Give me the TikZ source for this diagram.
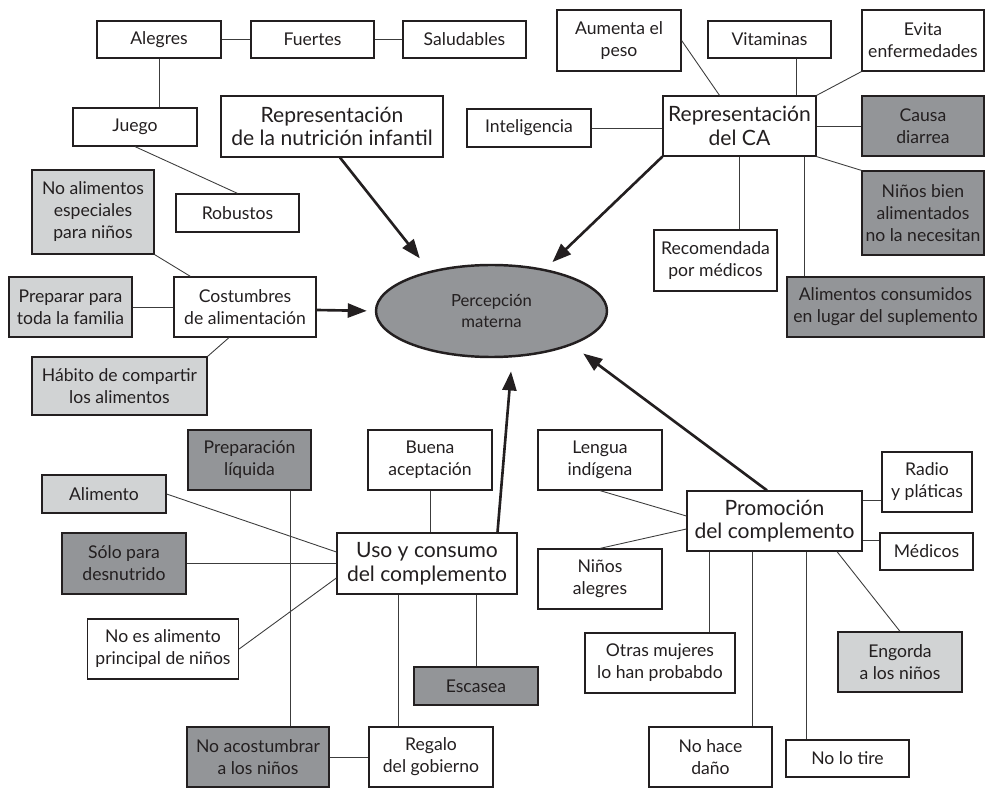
\documentclass[tikz,border=0pt]{standalone}
\usepackage{fontspec}
\setmainfont{Lato}
\usetikzlibrary{shapes.geometric,arrows.meta}
\definecolor{box-light}{HTML}{D1D3D4}
\definecolor{box-dark}{HTML}{939598}
\definecolor{ink}{HTML}{231F20}
\definecolor{line-grey}{HTML}{3C3C3C}
\newlength{\basisperceptionmap}
\setlength{\basisperceptionmap}{0.2cm}

\tikzset{
    concept/.style={draw=ink, line width=0.7pt, fill=white, text=ink, inner sep=0pt, align=center, font=\fontsize{10}{12.5}\selectfont},
    concept-light/.style={concept, fill=box-light},
    concept-dark/.style={concept, fill=box-dark},
    theme/.style={concept, font=\fontsize{12}{13.5}\selectfont},
    link/.style={line-grey, line width=0.5pt},
    influence/.style={draw=ink, line width=1.5pt, -{Triangle[length=0.38cm,width=0.28cm]}, shorten >=1.2\basisperceptionmap},
}

\begin{document}
\begin{tikzpicture}
    \useasboundingbox (0,0) rectangle (98.5\basisperceptionmap,-78.8\basisperceptionmap);

    % representacion de la nutricion infantil
    \draw (15.9\basisperceptionmap,-3.95\basisperceptionmap)
		node[concept, minimum width=12.4\basisperceptionmap, minimum height=3.7\basisperceptionmap] (alegres) {Alegres};
    \draw (31.25\basisperceptionmap,-3.95\basisperceptionmap)
		node[concept, minimum width=12.3\basisperceptionmap, minimum height=3.7\basisperceptionmap] (fuertes) {Fuertes};
    \draw (46.45\basisperceptionmap,-3.95\basisperceptionmap)
		node[concept, minimum width=12.3\basisperceptionmap, minimum height=3.7\basisperceptionmap] (saludables) {Saludables};
    \draw (13.5\basisperceptionmap,-12.7\basisperceptionmap)
		node[concept, minimum width=12.4\basisperceptionmap, minimum height=3.8\basisperceptionmap] (juego) {Juego};
    \draw (23.75\basisperceptionmap,-21.3\basisperceptionmap)
		node[concept, minimum width=12.3\basisperceptionmap, minimum height=3.8\basisperceptionmap] (robustos) {Robustos};
    \draw (33.2\basisperceptionmap,-12.65\basisperceptionmap)
		node[theme, minimum width=22.2\basisperceptionmap, minimum height=6.1\basisperceptionmap] (rep-nutricion) {Representación\\de la nutrición infantil};

    % costumbres
    \draw (9.3\basisperceptionmap,-21.2\basisperceptionmap)
		node[concept-light, minimum width=12.2\basisperceptionmap, minimum height=8.4\basisperceptionmap] (no-especiales) {No alimentos\\especiales\\para niños};
    \draw (7.05\basisperceptionmap,-30.7\basisperceptionmap)
		node[concept-light, minimum width=12.3\basisperceptionmap, minimum height=6.0\basisperceptionmap] (preparar) {Preparar para\\toda la familia};
    \draw (24.5\basisperceptionmap,-30.7\basisperceptionmap)
		node[concept, minimum width=14.2\basisperceptionmap, minimum height=6.0\basisperceptionmap] (costumbres) {Costumbres\\de alimentación};
    \draw (11.95\basisperceptionmap,-38.6\basisperceptionmap)
		node[concept-light, minimum width=17.5\basisperceptionmap, minimum height=5.8\basisperceptionmap] (habito) {Hábito de compartir\\los alimentos};

    % percepcion materna
    \draw (49.15\basisperceptionmap,-31.1\basisperceptionmap)
		node[ellipse, draw=ink, line width=1.4pt, fill=box-dark, text=ink, inner sep=0pt, align=center, font=\fontsize{9.5}{12}\selectfont, minimum width=23.1\basisperceptionmap, minimum height=9.2\basisperceptionmap] (percepcion) {Percepción\\materna};

    % representacion del CA
    \draw (61.9\basisperceptionmap,-4.05\basisperceptionmap)
		node[concept, minimum width=12.4\basisperceptionmap, minimum height=6.1\basisperceptionmap] (aumenta) {Aumenta el\\peso};
    \draw (76.95\basisperceptionmap,-3.95\basisperceptionmap)
		node[concept, minimum width=12.3\basisperceptionmap, minimum height=3.7\basisperceptionmap] (vitaminas) {Vitaminas};
    \draw (92.3\basisperceptionmap,-4.05\basisperceptionmap)
		node[concept, minimum width=12.2\basisperceptionmap, minimum height=6.1\basisperceptionmap] (evita) {Evita\\enfermedades};
    \draw (52.9\basisperceptionmap,-12.8\basisperceptionmap)
		node[concept, minimum width=12.4\basisperceptionmap, minimum height=3.8\basisperceptionmap] (inteligencia) {Inteligencia};
    \draw (73.95\basisperceptionmap,-12.6\basisperceptionmap)
		node[theme, minimum width=15.3\basisperceptionmap, minimum height=6.0\basisperceptionmap] (rep-ca) {Representación\\del CA};
    \draw (92.3\basisperceptionmap,-12.6\basisperceptionmap)
		node[concept-dark, minimum width=12.2\basisperceptionmap, minimum height=6.0\basisperceptionmap] (causa) {Causa\\diarrea};
    \draw (92.3\basisperceptionmap,-21.3\basisperceptionmap)
		node[concept-dark, minimum width=12.2\basisperceptionmap, minimum height=8.4\basisperceptionmap] (ninos-bien) {Niños bien\\alimentados\\no la necesitan};
    \draw (71.55\basisperceptionmap,-26.05\basisperceptionmap)
		node[concept, minimum width=12.3\basisperceptionmap, minimum height=6.1\basisperceptionmap] (recomendada) {Recomendada\\por médicos};
    \draw (88.55\basisperceptionmap,-30.7\basisperceptionmap)
		node[concept-dark, minimum width=19.7\basisperceptionmap, minimum height=6.0\basisperceptionmap] (consumidos) {Alimentos consumidos\\en lugar del suplemento};

    % uso y consumo
    \draw (24.95\basisperceptionmap,-46.0\basisperceptionmap)
		node[concept-dark, minimum width=12.3\basisperceptionmap, minimum height=6.0\basisperceptionmap] (prep-liquida) {Preparación\\líquida};
    \draw (43.0\basisperceptionmap,-46.0\basisperceptionmap)
		node[concept, minimum width=12.4\basisperceptionmap, minimum height=6.0\basisperceptionmap] (buena) {Buena\\aceptación};
    \draw (10.4\basisperceptionmap,-49.4\basisperceptionmap)
		node[concept-light, minimum width=12.4\basisperceptionmap, minimum height=3.8\basisperceptionmap] (alimento) {Alimento};
    \draw (12.4\basisperceptionmap,-56.35\basisperceptionmap)
		node[concept-dark, minimum width=12.4\basisperceptionmap, minimum height=6.1\basisperceptionmap] (solo) {Sólo para\\desnutrido};
    \draw (42.7\basisperceptionmap,-56.35\basisperceptionmap)
		node[theme, minimum width=18.0\basisperceptionmap, minimum height=6.1\basisperceptionmap] (uso) {Uso y consumo\\del complemento};
    \draw (16.3\basisperceptionmap,-64.9\basisperceptionmap)
		node[concept, minimum width=15.1\basisperceptionmap, minimum height=6.0\basisperceptionmap] (no-principal) {No es alimento\\principal de niños};
    \draw (47.6\basisperceptionmap,-68.6\basisperceptionmap)
		node[concept-dark, minimum width=12.4\basisperceptionmap, minimum height=3.8\basisperceptionmap] (escasea) {Escasea};
    \draw (25.8\basisperceptionmap,-75.7\basisperceptionmap)
		node[concept-dark, minimum width=14.2\basisperceptionmap, minimum height=6.0\basisperceptionmap] (no-acostumbrar) {No acostumbrar\\a los niños};
    \draw (43.1\basisperceptionmap,-75.7\basisperceptionmap)
		node[concept, minimum width=12.4\basisperceptionmap, minimum height=6.0\basisperceptionmap] (regalo) {Regalo\\del gobierno};

    % promocion del complemento
    \draw (60.0\basisperceptionmap,-46.0\basisperceptionmap)
		node[concept, minimum width=12.4\basisperceptionmap, minimum height=6.0\basisperceptionmap] (lengua) {Lengua\\indígena};
    \draw (77.45\basisperceptionmap,-52.1\basisperceptionmap)
		node[theme, minimum width=17.5\basisperceptionmap, minimum height=6.0\basisperceptionmap] (promocion) {Promoción\\del complemento};
    \draw (92.7\basisperceptionmap,-48.2\basisperceptionmap)
		node[concept, minimum width=9.0\basisperceptionmap, minimum height=6.0\basisperceptionmap] (radio) {Radio\\y pláticas};
    \draw (92.65\basisperceptionmap,-55.15\basisperceptionmap)
		node[concept, minimum width=9.3\basisperceptionmap, minimum height=3.7\basisperceptionmap] (medicos) {Médicos};
    \draw (60.0\basisperceptionmap,-57.9\basisperceptionmap)
		node[concept, minimum width=12.4\basisperceptionmap, minimum height=6.0\basisperceptionmap] (ninos-alegres) {Niños\\alegres};
    \draw (66.0\basisperceptionmap,-66.3\basisperceptionmap)
		node[concept, minimum width=15.0\basisperceptionmap, minimum height=6.0\basisperceptionmap] (otras) {Otras mujeres\\lo han probabdo};
    \draw (90.0\basisperceptionmap,-66.2\basisperceptionmap)
		node[concept-light, minimum width=12.4\basisperceptionmap, minimum height=6.0\basisperceptionmap] (engorda) {Engorda\\a los niños};
    \draw (71.05\basisperceptionmap,-75.7\basisperceptionmap)
		node[concept, minimum width=12.3\basisperceptionmap, minimum height=6.0\basisperceptionmap] (no-dano) {No hace\\daño};
    \draw (84.75\basisperceptionmap,-75.85\basisperceptionmap)
		node[concept, minimum width=12.3\basisperceptionmap, minimum height=3.7\basisperceptionmap] (no-tire) {No lo tire};

	% links
	\draw[link] (alegres.east) -- (fuertes.west);
	\draw[link] (fuertes.east) -- (saludables.west);
	\draw[link] (alegres.south) -- (alegres.south |- juego.north);
	\draw[link] (juego.south) -- (robustos.north);
	\draw[link] (no-especiales.south east) -- ([xshift=1.7\basisperceptionmap]costumbres.north west);
	\draw[link] (preparar.east) -- (costumbres.west);
	\draw[link] (habito.north east) -- ([xshift=-1.6\basisperceptionmap]costumbres.south);

	\draw[link] (aumenta.east) -- ([xshift=-2.0\basisperceptionmap]rep-ca.north);
	\draw[link] ([xshift=2.65\basisperceptionmap]vitaminas.south) coordinate (vitaminas-foot) -- (vitaminas-foot |- rep-ca.north);
	\draw[link] (evita.south west) -- (rep-ca.north east);
	\draw[link] (inteligencia.east) -- (inteligencia.east -| rep-ca.west);
	\draw[link] (rep-ca.east) -- (causa.west);
	\draw[link] (rep-ca.south east) -- (ninos-bien.north west);
	\draw[link] (rep-ca.south) -- (rep-ca.south |- recomendada.north);
	\draw[link] ([xshift=6.45\basisperceptionmap]rep-ca.south) coordinate (rep-ca-foot) -- (rep-ca-foot |- consumidos.north);

	\draw[link] (alimento.east) -- ([yshift=1.15\basisperceptionmap]uso.west);
	\draw[link] (solo.east) -- (uso.west);
	\draw[link] (no-principal.east) -- ([yshift=-1.45\basisperceptionmap]uso.west);
	\draw[link] ([xshift=4.05\basisperceptionmap]prep-liquida.south) coordinate (liquida-foot) -- (liquida-foot |- no-acostumbrar.north);
	\draw[link] (buena.south) -- (buena.south |- uso.north);
	\draw[link] ([xshift=-2.9\basisperceptionmap]uso.south) coordinate (uso-foot) -- (uso-foot |- regalo.north);
	\draw[link] (escasea.north) -- (escasea.north |- uso.south);
	\draw[link] (no-acostumbrar.east) -- (regalo.west);

	\draw[link] (lengua.south) -- ([yshift=0.5\basisperceptionmap]promocion.west);
	\draw[link] (ninos-alegres.north) -- ([yshift=-0.8\basisperceptionmap]promocion.west);
	\draw[link] ([yshift=2.1\basisperceptionmap]promocion.east) coordinate (radio-link) -- (radio-link -| radio.west);
	\draw[link] ([yshift=1.15\basisperceptionmap]medicos.west) coordinate (medicos-link) -- (medicos-link -| promocion.east);
	\draw[link] ([xshift=-6.55\basisperceptionmap]promocion.south) coordinate (otras-link) -- (otras-link |- otras.north);
	\draw[link] ([xshift=-2.25\basisperceptionmap]promocion.south) coordinate (dano-link) -- (dano-link |- no-dano.north);
	\draw[link] ([xshift=3.15\basisperceptionmap]promocion.south) coordinate (tire-link) -- (tire-link |- no-tire.north);
	\draw[link] ([xshift=6.25\basisperceptionmap]promocion.south) -- (engorda.north);

	% influences on percepcion materna
	\draw[influence, shorten >=0.32cm] ([xshift=0.8\basisperceptionmap]rep-nutricion.south) -- (percepcion.147);
	\draw[influence, shorten >=0.2cm] (rep-ca.south west) -- (percepcion.38);
	\draw[influence, shorten >=0.16cm] ([yshift=-0.3\basisperceptionmap]costumbres.east) -- (percepcion.west);
	\draw[influence, shorten >=0.28cm] ([xshift=7.05\basisperceptionmap]uso.north) -- (percepcion.294);
	\draw[influence, shorten >=0.28cm] ([xshift=-0.75\basisperceptionmap]promocion.north) -- (percepcion.337);
\end{tikzpicture}
\end{document}
